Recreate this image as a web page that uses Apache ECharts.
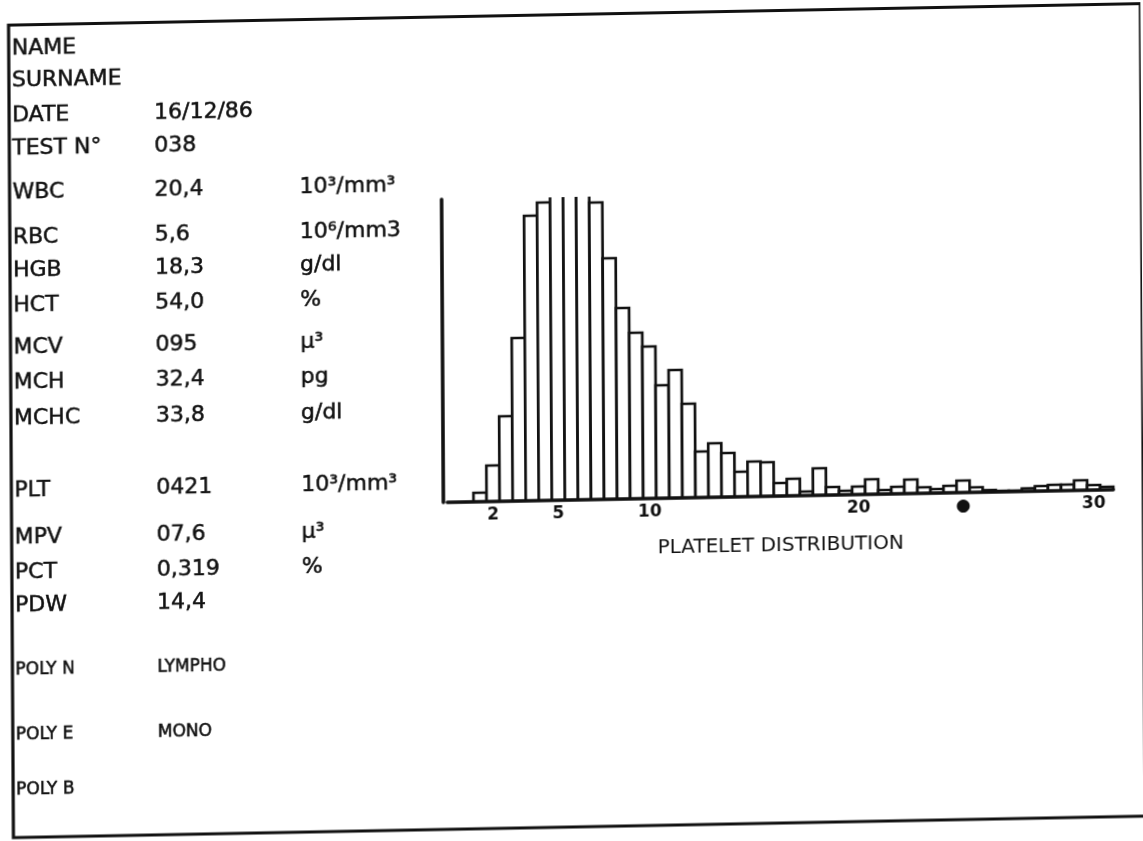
<!DOCTYPE html>
<html>
<head>
<meta charset="utf-8">
<script src="https://cdn.jsdelivr.net/npm/echarts@6/dist/echarts.min.js"></script>
<style>
  html, body { margin: 0; padding: 0; overflow: hidden; background: #fff; }
  #chart {
    width: 1143px; height: 841px;
    /* the scan is slightly skewed, mimic it */
    transform-origin: 571px 420px;
    transform: matrix(1, -0.019, 0.006, 1, 0, 0);
  }
</style>
</head>
<body>
<div id="chart"></div>
<script>
// histogram bins (1 = first bin next to the axis)
const bins = [1, 2, 3, 4, 5, 6, 7, 8, 9, 10, 11, 12, 13, 14, 15, 16, 17, 18, 19, 20,
  21, 22, 23, 24, 25, 26, 27, 28, 29, 30, 31, 32, 33, 34, 35, 36, 37, 38, 39, 40,
  41, 42, 43, 44, 45, 46, 47, 48, 49, 50, 51];
// platelet counts per bin (bins 9-11 run off the top of the plot)
const counts = [0, 0, 9, 36, 85, 163, 285, 298, 330, 340, 325, 297, 241, 191, 166, 152,
  113, 128, 94, 46, 54, 44, 25, 35, 34, 13, 17, 4, 27, 8, 4, 8, 15, 4, 7, 14, 6, 4, 7, 12,
  5, 2, 1, 1, 3, 5, 6, 6, 10, 5, 3];
// x axis tick labels (fL) and the bins they sit under
const tickBins = [4, 9, 16, 32, 40, 50];
const tickText = ['2', '5', '10', '20', '●', '30'];

// report table on the left
const rowLabels = ['NAME', 'SURNAME', 'DATE', 'TEST N°', 'WBC', 'RBC', 'HGB', 'HCT', 'MCV', 'MCH', 'MCHC',
  'PLT', 'MPV', 'PCT', 'PDW', 'POLY N', 'POLY E', 'POLY B'];
const rowValues = ['', '', '16/12/86', '038', '20,4', '5,6', '18,3', '54,0', '095', '32,4', '33,8',
  '0421', '07,6', '0,319', '14,4', 'LYMPHO', 'MONO', ''];
const rowUnits = ['', '', '', '', '10³/mm³', '10⁶/mm3', 'g/dl', '%', 'µ³', 'pg', 'g/dl',
  '10³/mm³', 'µ³', '%', '', '', '', ''];

// layout of the rows (px)
const rowY = [38, 70, 105, 138, 182, 227, 260, 295, 337, 372, 408, 480, 527, 562, 595, 660, 725, 780];
const FONT = 'DejaVu Sans';

const chart = echarts.init(document.getElementById('chart'));

const graphic = [{
  type: 'rect',
  shape: { x: 11, y: 14.5, width: 1132, height: 812.5 },
  style: { fill: 'none', stroke: '#111', lineWidth: 3.2 }
}];
rowLabels.forEach((lab, i) => {
  const small = i >= 15;
  const col = [[14, lab], [156, rowValues[i]], [301, rowUnits[i]]];
  col.forEach(([x, t]) => {
    if (!t) return;
    graphic.push({
      type: 'text', x: x, y: rowY[i],
      style: {
        text: t, fill: '#111', stroke: '#111', lineWidth: 0.5,
        verticalAlign: 'middle', align: 'left',
        font: (small ? '17px ' : '22px ') + FONT
      }
    });
  });
});

function renderBar(params, api) {
  const v = api.value(1);
  if (!v) return;
  const i = api.value(0);
  const base = api.coord([i, 0]);
  const top = api.coord([i, v]);
  const w = api.size([1, 0])[0];
  const cs = params.coordSys;
  const cut = top[1] < cs.y;
  const yTop = cut ? cs.y : top[1];
  const l = base[0] - w / 2, r = base[0] + w / 2;
  const stroke = { stroke: '#111', lineWidth: 2.7, fill: null };
  const kids = [{
    type: 'rect',
    shape: { x: l, y: yTop, width: w, height: base[1] - yTop },
    style: { fill: '#fff' }
  }];
  if (cut) {
    kids.push({ type: 'line', shape: { x1: l, y1: yTop, x2: l, y2: base[1] }, style: stroke });
    kids.push({ type: 'line', shape: { x1: r, y1: yTop, x2: r, y2: base[1] }, style: stroke });
  } else {
    kids.push({ type: 'polyline', shape: { points: [[l, base[1]], [l, yTop], [r, yTop], [r, base[1]]] }, style: stroke });
  }
  return { type: 'group', children: kids };
}

chart.setOption({
  animation: false,
  grid: { left: 447, top: 197, width: 666, height: 303 },
  xAxis: {
    type: 'category',
    data: bins,
    boundaryGap: true,
    z: 5,
    axisLine: { lineStyle: { color: '#111', width: 3.6 } },
    axisTick: { show: false },
    axisLabel: {
      interval: (i) => tickBins.includes(bins[i]),
      formatter: (val) => {
        const t = tickText[tickBins.indexOf(Number(val))] || '';
        return t === '●' ? '{dot|' + t + '}' : t;
      },
      margin: 5,
      color: '#111',
      fontSize: 17,
      fontWeight: 'bold',
      fontFamily: FONT,
      rich: { dot: { fontSize: 17, color: '#111' } }
    },
    name: 'PLATELET DISTRIBUTION',
    nameLocation: 'middle',
    nameGap: 40,
    nameTextStyle: { color: '#111', fontSize: 20, fontFamily: FONT }
  },
  yAxis: {
    type: 'value',
    min: 0,
    max: 303,
    offset: 4.5,
    z: 5,
    splitLine: { show: false },
    axisLabel: { show: false },
    axisTick: { show: false },
    axisLine: { show: true, lineStyle: { color: '#111', width: 3.6 } }
  },
  series: [{
    type: 'custom',
    clip: false,
    renderItem: renderBar,
    data: counts.map((c, i) => [i, c])
  }],
  graphic: graphic
});
</script>
</body>
</html>
